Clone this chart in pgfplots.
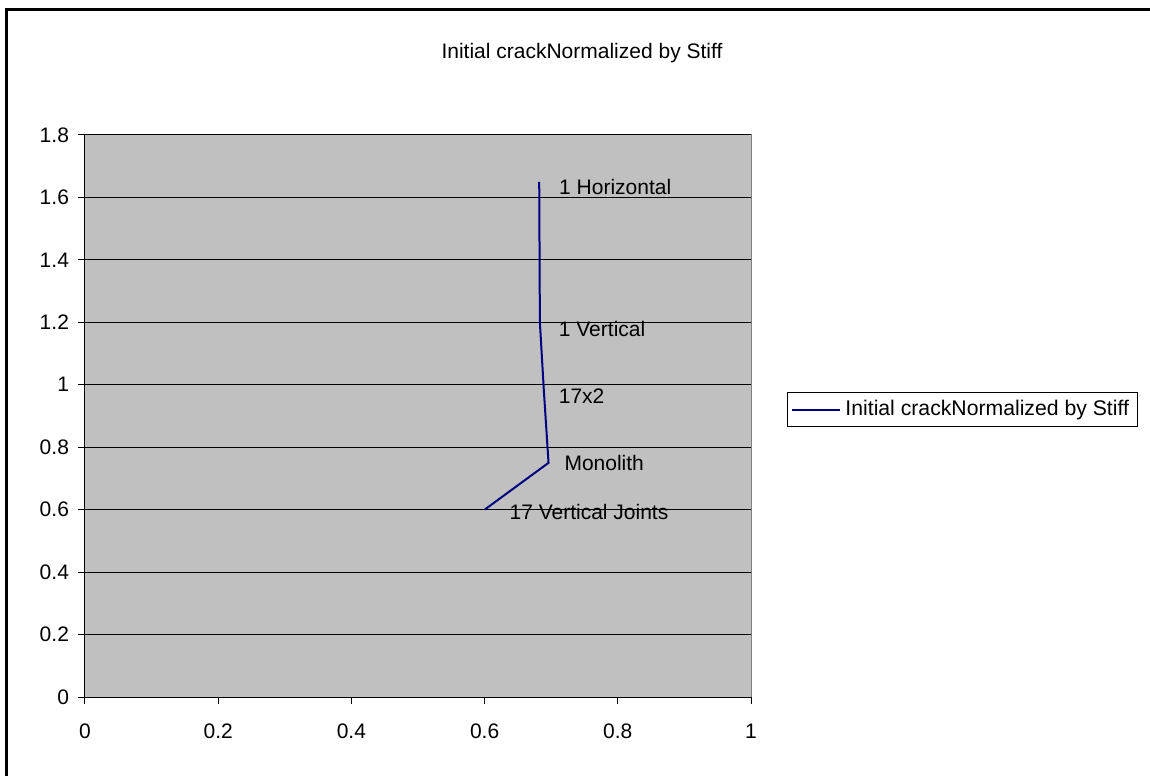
\documentclass[border=0pt]{standalone}
\usepackage{fontspec}
\setmainfont{Liberation Sans}
\usepackage{pgfplots}
\usepackage{pgfplotstable}
\pgfplotsset{compat=1.18}
\definecolor{plotgray}{RGB}{192,192,192}
\definecolor{seriesblue}{RGB}{0,0,128}

% normalized stiffness for each joint layout; dx/dy place the point labels
\pgfplotstableread{
x     y     dx    dy    label
0.600 0.60  12.0  -1.0  {17 Vertical Joints}
0.696 0.75  7.5   0.0   Monolith
0.689 0.98  7.0   -2.5  17x2
0.683 1.20  9.0   -3.5  {1 Vertical}
0.682 1.65  9.5   -2.5  {1 Horizontal}
}\crackdata

\begin{document}
\begin{tikzpicture}
\begin{axis}[
  at={(42.5pt,39.5pt)}, anchor=south west,
  scale only axis, width=333pt, height=281pt,
  xmin=0, xmax=1, ymin=0, ymax=1.8,
  xtick={0,0.2,0.4,0.6,0.8,1},
  ytick={0,0.2,0.4,0.6,0.8,1,1.2,1.4,1.6,1.8},
  axis x line=bottom, axis y line=left,
  axis line style={-, black, line width=0.5pt},
  axis background/.style={fill=plotgray, draw=gray, line width=0.5pt},
  tick align=outside, major tick length=3.5pt,
  tick style={black, line width=0.5pt},
  ymajorgrids, major grid style={black, line width=0.5pt},
  tick label style={font=\fontsize{10.5}{12}\selectfont},
  xticklabel style={yshift=-6.5pt},
  yticklabel style={xshift=-1pt},
  /pgf/number format/assume math mode=true,
  legend style={at={(1.054,0.5427)}, anchor=north west, draw=black,
    line width=0.5pt, font=\fontsize{10.6}{12}\selectfont,
    inner xsep=2pt, inner ysep=2pt},
  legend cell align=left,
  legend image code/.code={\draw[#1] (0pt,0pt) -- (24pt,0pt);},
]
\addplot[seriesblue, line width=1pt, mark=none,
  nodes near coords, point meta=explicit symbolic,
  visualization depends on={\thisrow{dx}\as\dx},
  visualization depends on={\thisrow{dy}\as\dy},
  every node near coord/.append style={anchor=west, inner sep=0pt,
    xshift=\dx*1pt, yshift=\dy*1pt, text=black,
    font=\fontsize{10.5}{12}\selectfont},
] table[x=x, y=y, meta=label] {\crackdata};
\addlegendentry{Initial crackNormalized by Stiff}
\end{axis}
\node[font=\fontsize{10.5}{12}\selectfont] at (291pt,361.5pt) {Initial crackNormalized by Stiff};
\draw[line width=1.5pt, black] (2.5pt,383.25pt) -- (575pt,383.25pt);
\draw[line width=1.5pt, black] (3.25pt,384pt) -- (3.25pt,0pt);
\pgfresetboundingbox
\path[use as bounding box] (0pt,0pt) rectangle (575pt,388pt);
\end{tikzpicture}
\end{document}
